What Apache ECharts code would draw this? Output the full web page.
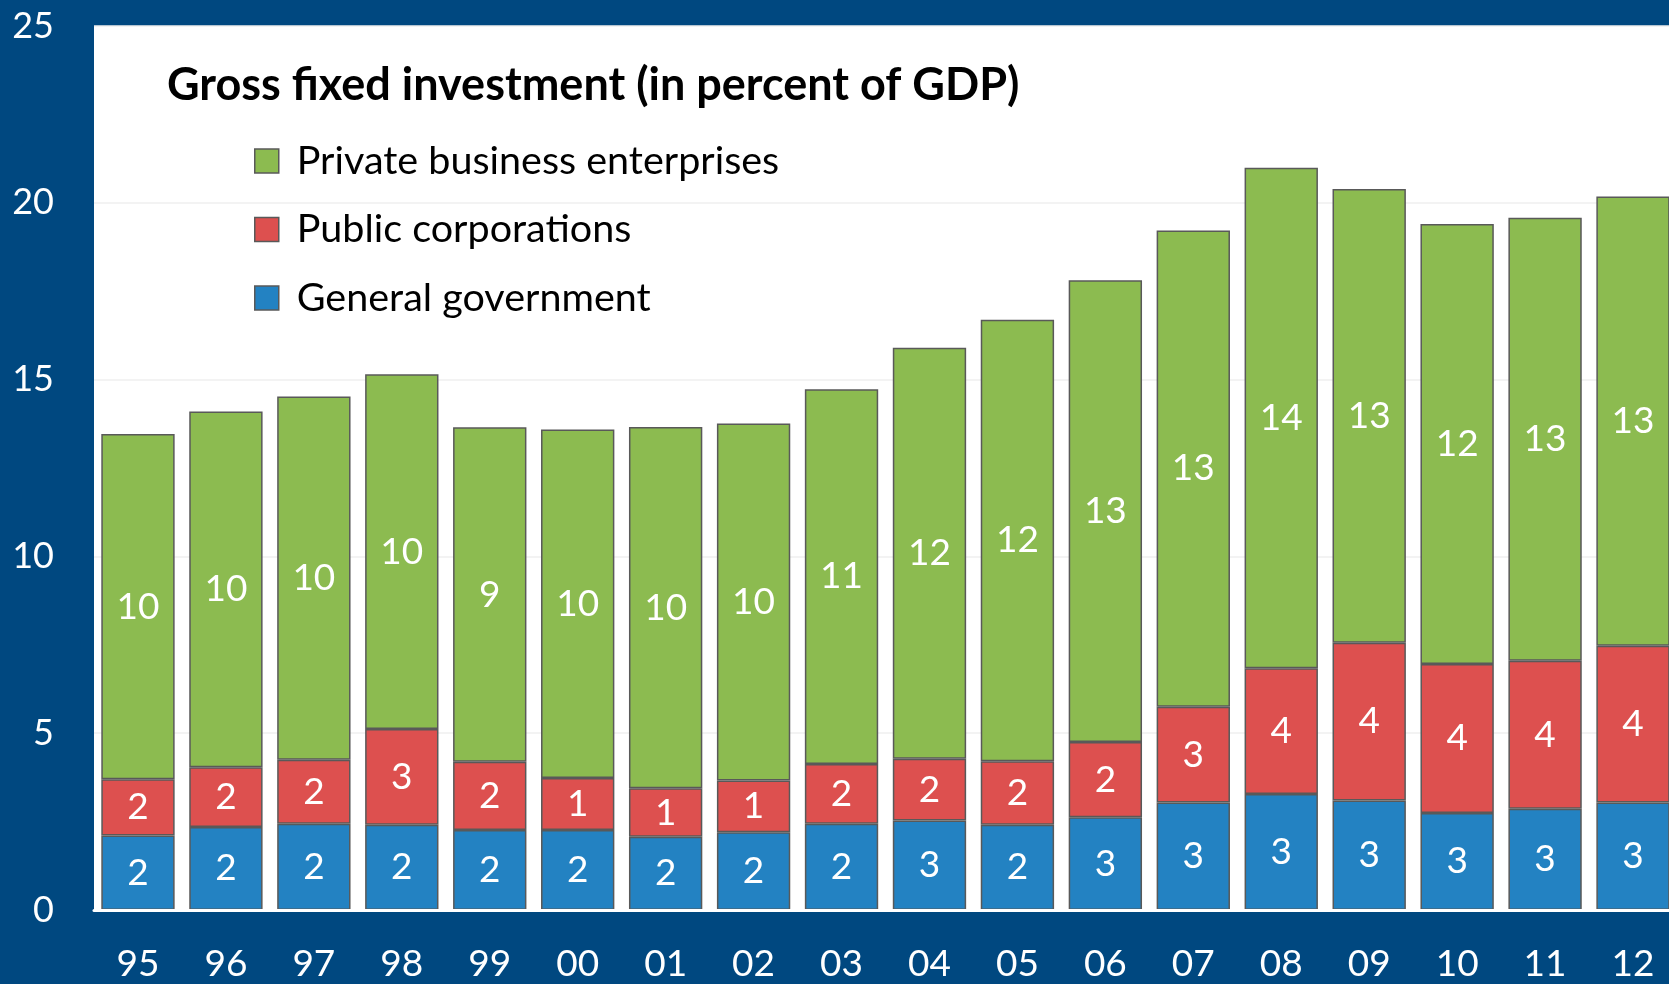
<!DOCTYPE html>
<html>
<head>
<meta charset="utf-8">
<script src="https://cdn.jsdelivr.net/npm/echarts@6/dist/echarts.min.js"></script>
<style>
  html, body { margin: 0; padding: 0; background: #004880; overflow: hidden; }
  /* The last bar runs off the right edge of the frame */
  #chart { width: 1677px; height: 984px; }
</style>
</head>
<body>
<div id="chart"></div>
<script>
// Years (two-digit labels)
const years = ['95','96','97','98','99','00','01','02','03','04','05','06','07','08','09','10','11','12'];

// Gross fixed investment, percent of GDP
const generalGovernment = [2.11, 2.35, 2.44, 2.41, 2.26, 2.26, 2.07, 2.20, 2.44, 2.53, 2.41, 2.62, 3.04, 3.28, 3.10, 2.74, 2.86, 3.04];
const publicCorporations = [1.59, 1.69, 1.81, 2.71, 1.93, 1.47, 1.37, 1.46, 1.69, 1.75, 1.80, 2.13, 2.71, 3.56, 4.46, 4.22, 4.19, 4.43];
const privateBusiness = [9.76, 10.06, 10.27, 10.03, 9.46, 9.86, 10.22, 10.10, 10.60, 11.62, 12.48, 13.06, 13.47, 14.15, 12.83, 12.44, 12.53, 12.71];

// Value axis ticks
const yTicks = { min: 0, max: 25, interval: 5 };

const FONT = 'Lato';
const chart = echarts.init(document.getElementById('chart'), null, { renderer: 'canvas' });

function barSeries(name, data, color) {
  return {
    name: name,
    type: 'bar',
    stack: 'gfi',
    data: data,
    barCategoryGap: '16.6%',
    itemStyle: { color: color, borderColor: '#595959', borderWidth: 1.5 },
    label: {
      show: true,
      position: 'inside',
      color: '#ffffff',
      fontFamily: FONT,
      fontSize: 37,
      formatter: p => String(Math.round(p.value))
    },
    emphasis: { disabled: true }
  };
}

chart.setOption({
  backgroundColor: '#004880',
  animation: false,
  textStyle: { fontFamily: FONT },
  grid: {
    show: true,
    left: 94,
    top: 26,
    right: 0,
    bottom: 74,
    backgroundColor: '#ffffff',
    borderWidth: 0
  },
  title: {
    text: 'Gross fixed investment (in percent of GDP)',
    left: 167,
    top: 63,
    padding: 0,
    textStyle: { fontFamily: FONT, fontWeight: 'bold', fontSize: 45, color: '#000000' }
  },
  legend: {
    orient: 'vertical',
    left: 254,
    top: 141,
    padding: 0,
    itemWidth: 24,
    itemHeight: 24,
    itemGap: 28.5,
    icon: 'rect',
    selectedMode: false,
    data: ['Private business enterprises', 'Public corporations', 'General government'],
    itemStyle: { borderColor: '#595959', borderWidth: 1.5 },
    textStyle: { fontFamily: FONT, fontSize: 39.5, color: '#000000', padding: [0, 0, 0, 13] }
  },
  xAxis: {
    type: 'category',
    data: years,
    z: 3,
    axisTick: { show: false },
    axisLine: { show: true, lineStyle: { color: '#ffffff', width: 3 } },
    axisLabel: { color: '#ffffff', fontFamily: FONT, fontSize: 37, margin: 36 }
  },
  yAxis: {
    type: 'value',
    min: yTicks.min,
    max: yTicks.max,
    interval: yTicks.interval,
    axisLine: { show: false },
    axisTick: { show: false },
    splitLine: { show: true, lineStyle: { color: '#EFEFEF', width: 1.5 } },
    axisLabel: { color: '#ffffff', fontFamily: FONT, fontSize: 36, margin: 40 }
  },
  series: [
    barSeries('General government', generalGovernment, '#2382C2'),
    barSeries('Public corporations', publicCorporations, '#DD504F'),
    barSeries('Private business enterprises', privateBusiness, '#8CBB50')
  ]
});
</script>
</body>
</html>
